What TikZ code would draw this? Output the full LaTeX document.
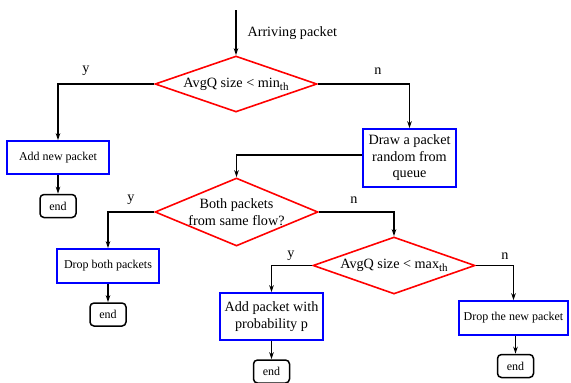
\documentclass[tikz,border=0pt]{standalone}
\usepackage{fontspec}
\setmainfont{Liberation Serif}
\usetikzlibrary{shapes.geometric,arrows.meta}

\tikzset{
  flow/.style={line width=1.4pt,-{Stealth[length=7pt,width=4.5pt]}},
  bigtext/.style={font=\fontsize{14.2}{16.5}\selectfont},
  smalltext/.style={font=\fontsize{12}{14}\selectfont},
  decision/.style={diamond,draw=red,line width=1.6pt,inner sep=0pt},
  action/.style={rectangle,draw=blue,line width=1.5pt,inner sep=0pt,align=center},
  stop/.style={rectangle,rounded corners=4pt,draw=black,line width=1.5pt,inner sep=0pt,
    minimum width=36pt,minimum height=23pt,smalltext},
  branch/.style={bigtext}
}
\newcommand{\thsub}{\raisebox{-0.45ex}{\fontsize{11}{11}\selectfont th}}

\begin{document}
\begin{tikzpicture}[x=1pt,y=-1pt]
  \useasboundingbox (0,0) rectangle (571,383);

  % entry
  \coordinate (start) at (236,10);
  \node[bigtext,anchor=west] (arrive) at (244,33) {Arriving packet};

  % decisions
  \node[decision,minimum width=162pt,minimum height=56pt] (d1) at (236,84) {};
  \node[bigtext] (d1txt) at (236,84) {AvgQ size < min\thsub};
  \node[decision,minimum width=163pt,minimum height=68pt] (d2) at (236.5,212) {};
  \node[bigtext,align=center] (d2txt) at (236.5,212) {Both packets\\from same flow?};
  \node[decision,minimum width=162pt,minimum height=57pt] (d3) at (394,265.5) {};
  \node[bigtext] (d3txt) at (394,265.5) {AvgQ size < max\thsub};

  % actions
  \node[action,smalltext,minimum width=102pt,minimum height=33pt] (add) at (58,157.5) {Add new packet};
  \node[action,bigtext,minimum width=93pt,minimum height=58pt] (pick) at (409.5,158) {Draw a packet\\random from\\queue};
  \node[action,smalltext,minimum width=102pt,minimum height=34pt] (dropboth) at (108,266) {Drop both packets};
  \node[action,bigtext,minimum width=103pt,minimum height=47pt] (addp) at (271.5,316.5) {Add packet with\\probability p};
  \node[action,smalltext,minimum width=109pt,minimum height=34pt] (dropnew) at (513.5,318) {Drop the new packet};

  % terminals
  \node[stop] (end1) at (58,206) {end};
  \node[stop] (end2) at (108,314.5) {end};
  \node[stop] (end3) at (271.5,371.5) {end};
  \node[stop] (end4) at (515.5,366) {end};

  % connectors
  \draw[flow] (start) -- (d1.north);
  \draw[flow] (d1.west) -| (add.north);
  \draw[flow] (d1.east) -| (pick.north);
  \draw[flow] ([yshift=3pt]pick.west) -| (d2.north);
  \draw[flow] (d2.west) -| (dropboth.north);
  \draw[flow] (d2.east) -| (d3.north);
  \draw[flow] (d3.west) -| (addp.north);
  \draw[flow] (d3.east) -| (dropnew.north);
  \draw[flow] (add.south) -- (end1.north);
  \draw[flow] (dropboth.south) -- (end2.north);
  \draw[flow] (addp.south) -- (end3.north);
  \draw[flow] (dropnew.south -| end4.north) -- (end4.north);

  % branch labels
  \node[branch] (y1) at (86,71) {y};
  \node[branch] (n1) at (378,71) {n};
  \node[branch] (y2) at (131,200) {y};
  \node[branch] (n2) at (354,200) {n};
  \node[branch] (y3) at (291,256) {y};
  \node[branch] (n3) at (505,256) {n};
\end{tikzpicture}
\end{document}
